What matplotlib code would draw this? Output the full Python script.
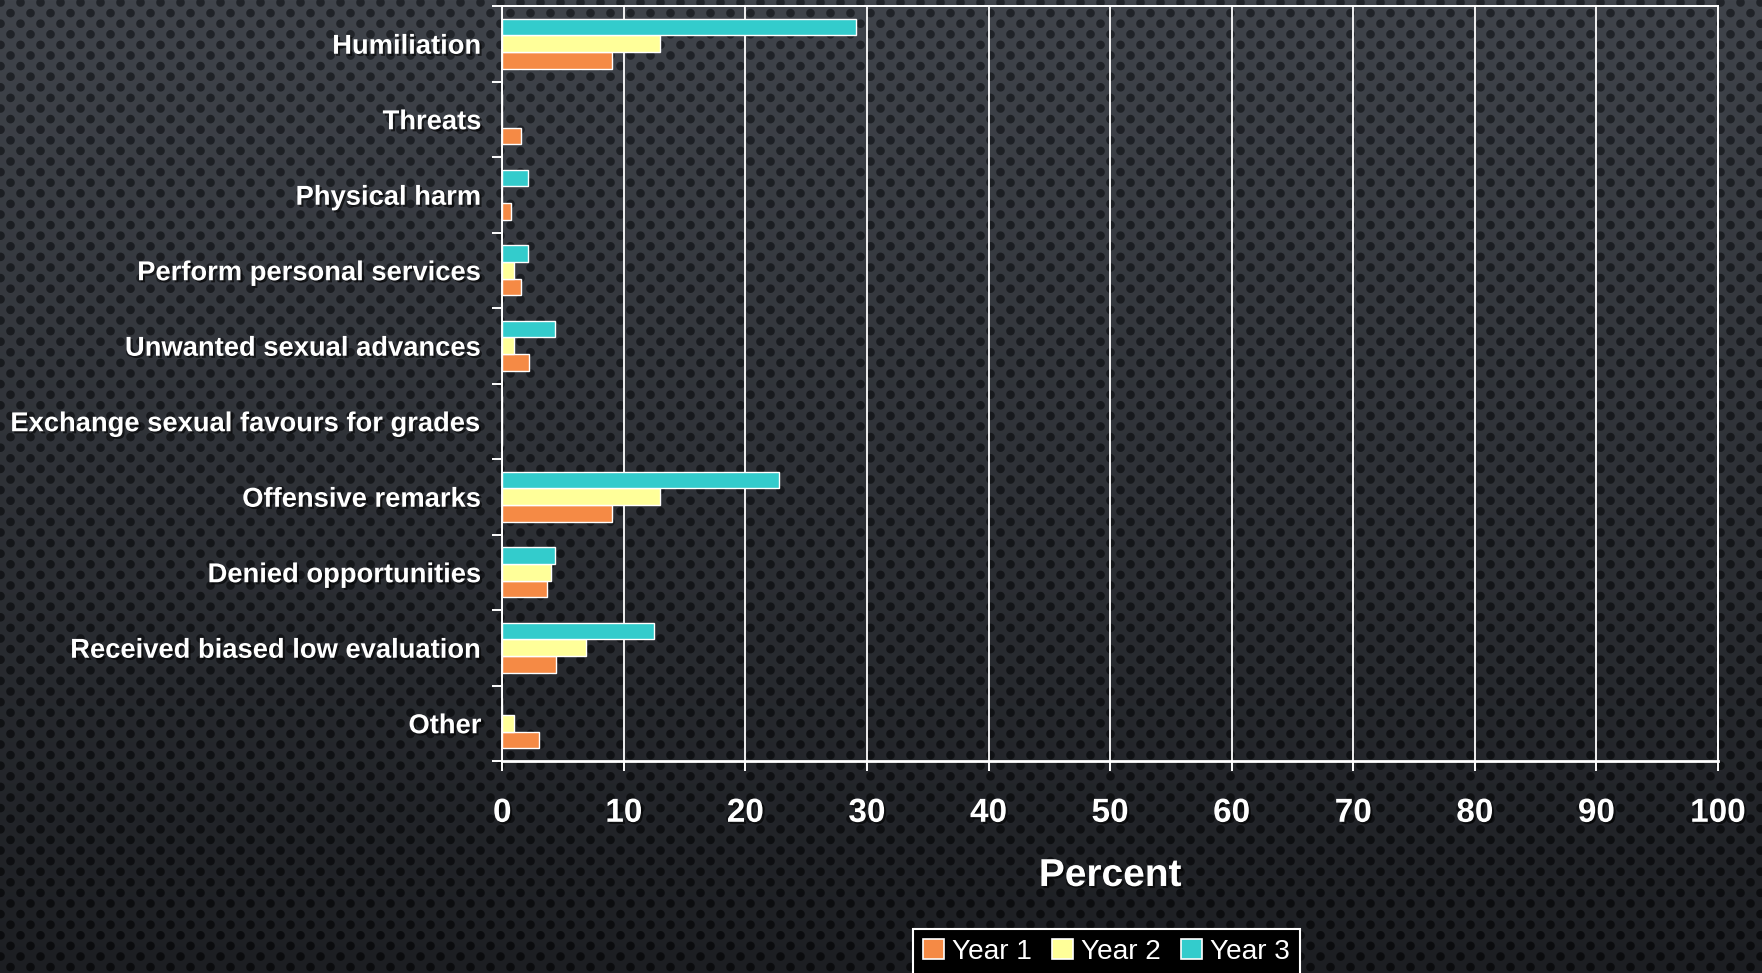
import matplotlib
matplotlib.use("Agg")
import matplotlib.pyplot as plt
import matplotlib.patheffects as pe
import numpy as np
from matplotlib.patches import Patch

categories = ["Humiliation", "Threats", "Physical harm", "Perform personal services",
              "Unwanted sexual advances", "Exchange sexual favours for grades",
              "Offensive remarks", "Denied opportunities",
              "Received biased low evaluation", "Other"]
year1 = [9.0, 1.5, 0.7, 1.5, 2.2, 0.0, 9.0, 3.7, 4.4, 3.0]
year2 = [13.0, 0.0, 0.0, 1.0, 1.0, 0.0, 13.0, 4.0, 6.9, 1.0]
year3 = [29.1, 0.0, 2.1, 2.1, 4.3, 0.0, 22.8, 4.3, 12.5, 0.0]
series_names = ["Year 1", "Year 2", "Year 3"]
colors = ["#F58A45", "#FFFF99", "#33CCCC"]

W, H = 1762, 973
plt.rcParams["font.family"] = ["Liberation Sans", "DejaVu Sans"]

fig = plt.figure(figsize=(W / 100, H / 100), dpi=100)

# perforated-metal backdrop: vertical gradient with staggered dark holes
yy, xx = np.mgrid[0:H, 0:W].astype(float)
t = yy / (H - 1)
top_bg, bot_bg = np.array([0x40, 0x44, 0x4b]), np.array([0x1c, 0x1e, 0x22])
top_dot, bot_dot = np.array([0x21, 0x24, 0x29]), np.array([0x0b, 0x0c, 0x0e])
bg = top_bg[None, None, :] * (1 - t[..., None]) + bot_bg[None, None, :] * t[..., None]
dot = top_dot[None, None, :] * (1 - t[..., None]) + bot_dot[None, None, :] * t[..., None]
row_h, col_w = 10.6, 20.0
r = np.round((yy - 2) / row_h)
cy = r * row_h + 2
cx = np.round((xx - (r % 2) * col_w / 2) / col_w) * col_w + (r % 2) * col_w / 2
d = np.hypot(xx - cx, yy - cy)
m = np.clip(4.8 - d, 0, 1)[..., None]
img = (bg * (1 - m) + dot * m) / 255.0
bax = fig.add_axes([0, 0, 1, 1], zorder=-10)
bax.imshow(img, aspect="auto", interpolation="bilinear")
bax.axis("off")

left, right = 502.3 / W, 1718 / W
top, bottom = 1 - 6 / H, 1 - 761 / H
ax = fig.add_axes([left, bottom, right - left, top - bottom])
ax.set_facecolor("none")

y = np.arange(len(categories))
h = 0.22
for vals, off, c in zip([year1, year2, year3], [h, 0, -h], colors):
    ax.barh(y + off, vals, height=h, color=c, edgecolor="white", linewidth=1.0, zorder=3)

ax.set_xlim(0, 100)
ax.set_ylim(len(categories) - 0.5, -0.5)
ax.set_xticks(np.arange(0, 101, 10))
ax.xaxis.grid(True, color="white", linewidth=1.3, zorder=1)
ax.set_axisbelow(True)
for s in ax.spines.values():
    s.set_color("white")
    s.set_linewidth(1.4)
ax.spines["bottom"].set_linewidth(2)

shadow = [pe.SimplePatchShadow(offset=(1.5, -1.5), shadow_rgbFace="black", alpha=0.6), pe.Normal()]

ax.set_yticks(y)
ax.set_yticklabels(categories, fontsize=19.7, fontweight="bold", color="white")
ax.set_yticks(np.arange(-0.5, len(categories)), minor=True)
ax.tick_params(axis="y", which="major", length=0, pad=15)
ax.tick_params(axis="y", which="minor", length=7, width=1.4, color="white", direction="out")
ax.tick_params(axis="x", which="major", length=7.5, width=1.4, color="white", pad=19,
               labelsize=24, labelcolor="white")
for lab in ax.get_xticklabels():
    lab.set_fontweight("bold")
    lab.set_path_effects(shadow)
for lab in ax.get_yticklabels():
    lab.set_path_effects(shadow)

ax.set_xlabel("Percent", fontsize=28, fontweight="bold", color="white", labelpad=21,
              path_effects=shadow)

handles = [Patch(facecolor=c, edgecolor="white", linewidth=1.2, label=n)
           for c, n in zip(colors, series_names)]
leg = fig.legend(handles=handles, loc="upper left", bbox_to_anchor=(913 / W, 1 - 929 / H),
                 ncol=3, fontsize=20.2, frameon=True, fancybox=False, borderaxespad=0,
                 handlelength=0.75, handleheight=0.75, handletextpad=0.3, columnspacing=0.7,
                 borderpad=0.35)
leg.get_frame().set_facecolor("black")
leg.get_frame().set_edgecolor("white")
leg.get_frame().set_linewidth(1.5)
leg.get_frame().set_alpha(1)
for txt in leg.get_texts():
    txt.set_color("white")

fig.savefig("out.png", dpi=100)
